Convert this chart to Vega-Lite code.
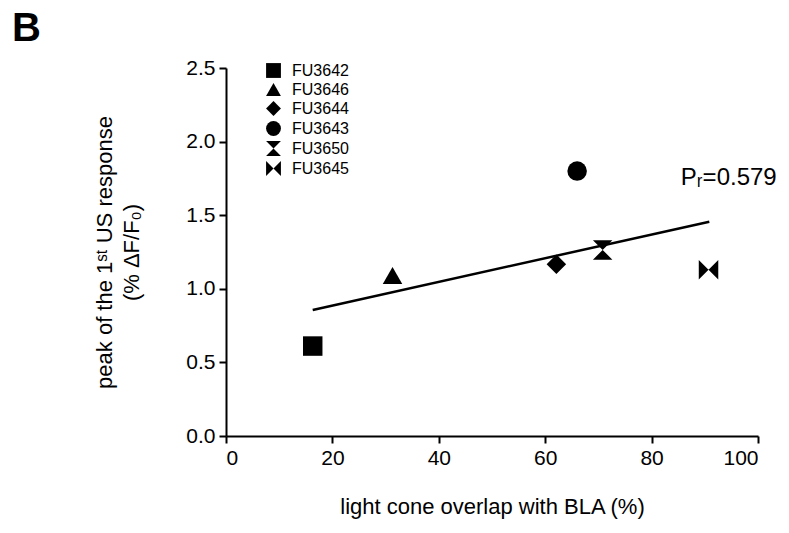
{
  "$schema": "https://vega.github.io/schema/vega-lite/v6.json",
  "width": 532,
  "height": 368,
  "autosize": {"type": "none"},
  "padding": {"left": 226, "top": 68, "right": 31, "bottom": 97},
  "background": "white",
  "config": {"view": {"stroke": null}, "font": "Liberation Sans"},
  "title": {"text": "B", "anchor": "start", "frame": "group", "dx": -214, "dy": 38, "fontSize": 40, "fontWeight": "bold", "color": "black", "font": "Liberation Sans", "offset": 14, "baseline": "alphabetic"},
  "encoding": {
    "x": {"field": "x", "type": "quantitative",
      "scale": {"domain": [0, 100], "nice": false, "zero": false},
      "axis": {"values": [0, 20, 40, 60, 80, 100], "grid": false, "domainColor": "black", "domainWidth": 2, "tickColor": "black", "tickWidth": 2, "tickSize": 7, "labelFontSize": 21, "labelColor": "black", "labelPadding": 4, "title": "light cone overlap with BLA (%)", "titleFontSize": 22, "titleFontWeight": "normal", "titleColor": "black", "titlePadding": 28}},
    "y": {"field": "y", "type": "quantitative",
      "scale": {"domain": [0, 2.5], "nice": false, "zero": false},
      "axis": {"values": [0, 0.5, 1, 1.5, 2, 2.5], "format": ".1f", "grid": false, "domainColor": "black", "domainWidth": 2, "tickColor": "black", "tickWidth": 2, "tickSize": 7, "labelFontSize": 21, "labelColor": "black", "labelPadding": 4, "title": ["peak of the 1ˢᵗ US response", "(% ΔF/F₀)"], "titleFontSize": 22, "titleFontWeight": "normal", "titleColor": "black", "titlePadding": 42, "titleLineHeight": 27}}
  },
  "layer": [
    {
      "data": {"values": [{"x": 16.3, "y": 0.856}, {"x": 90.85, "y": 1.456}]},
      "mark": {"type": "line", "color": "black", "strokeWidth": 2.5}
    },
    {
      "data": {"values": [
        {"animal": "FU3642", "x": 16.3, "y": 0.611},
        {"animal": "FU3646", "x": 31.3, "y": 1.09},
        {"animal": "FU3644", "x": 62.1, "y": 1.166},
        {"animal": "FU3643", "x": 66.0, "y": 1.80},
        {"animal": "FU3650", "x": 70.8, "y": 1.264},
        {"animal": "FU3645", "x": 90.7, "y": 1.13}
      ]},
      "mark": {"type": "point", "filled": true, "opacity": 1, "color": "black", "size": 380},
      "encoding": {
        "shape": {"field": "animal", "type": "nominal",
          "scale": {"domain": ["FU3642", "FU3646", "FU3644", "FU3643", "FU3650", "FU3645"],
            "range": ["square", "triangle-up", "diamond", "circle", "M-1,-1L1,-1L-1,1L1,1Z", "M-1,-1L1,1L1,-1L-1,1Z"]},
          "legend": {"orient": "none", "legendX": 39, "legendY": -6, "title": null, "labelFontSize": 16, "labelColor": "black", "symbolSize": 220, "symbolFillColor": "black", "symbolStrokeColor": "black", "symbolOpacity": 1, "rowPadding": -1, "labelOffset": 10, "padding": 0}}
      }
    },
    {
      "data": {"values": [{"x": 85.5, "y": 1.705, "label": "Pᵣ=0.579"}]},
      "mark": {"type": "text", "align": "left", "baseline": "alphabetic", "fontSize": 24, "color": "black", "font": "Liberation Sans"},
      "encoding": {"text": {"field": "label"}}
    }
  ]
}
